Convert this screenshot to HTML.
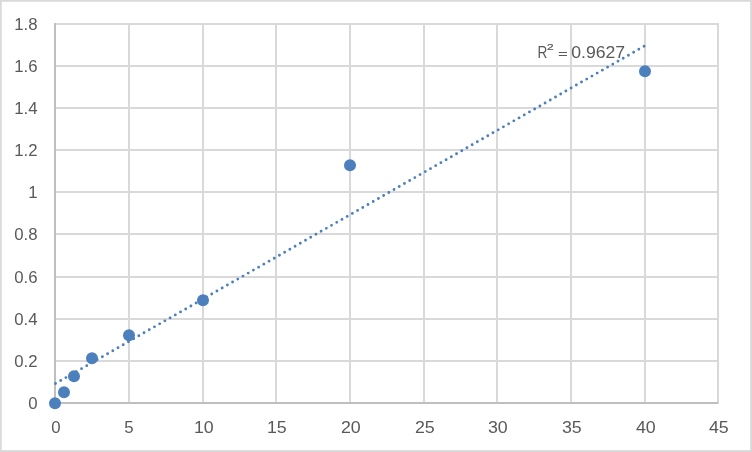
<!DOCTYPE html>
<html lang="en">
<head>
<meta charset="utf-8">
<title>Standard curve</title>
<style>
html,body{margin:0;padding:0;background:#fff;}
body{width:752px;height:452px;overflow:hidden;}
svg{display:block;}
text{font-family:"Liberation Sans",sans-serif;font-size:16.8px;fill:#595959;}
</style>
</head>
<body>
<svg width="752" height="452" viewBox="0 0 752 452">
<rect x="0" y="0" width="752" height="452" fill="#fff"/>
<g fill="#d9d9d9"><rect x="0" y="0" width="752" height="1.75"/><rect x="0" y="0" width="1.75" height="452"/><rect x="750.15" y="0" width="1.85" height="452"/><rect x="0" y="450.15" width="752" height="1.85"/></g>
<g shape-rendering="crispEdges" fill="#d9d9d9">
<rect x="54" y="23" width="665" height="2"/>
<rect x="54" y="65" width="665" height="2"/>
<rect x="54" y="107" width="665" height="2"/>
<rect x="54" y="149" width="665" height="2"/>
<rect x="54" y="191" width="665" height="2"/>
<rect x="54" y="233" width="665" height="2"/>
<rect x="54" y="276" width="665" height="2"/>
<rect x="54" y="318" width="665" height="2"/>
<rect x="54" y="360" width="665" height="2"/>
<rect x="128" y="23" width="2" height="381"/>
<rect x="202" y="23" width="2" height="381"/>
<rect x="275" y="23" width="2" height="381"/>
<rect x="349" y="23" width="2" height="381"/>
<rect x="423" y="23" width="2" height="381"/>
<rect x="496" y="23" width="2" height="381"/>
<rect x="570" y="23" width="2" height="381"/>
<rect x="644" y="23" width="2" height="381"/>
<rect x="717" y="23" width="2" height="381"/>
</g>
<g shape-rendering="crispEdges" fill="#bfbfbf">
<rect x="54" y="23" width="2" height="381"/>
<rect x="54" y="402" width="664" height="2"/>
</g>
<line x1="55.5" y1="383.55" x2="644.9" y2="45.75" stroke="#4c80bd" stroke-width="2.9" stroke-linecap="round" stroke-dasharray="0 6.003"/>
<g fill="#4c80bd">
<circle cx="55" cy="403.25" r="6"/>
<circle cx="64" cy="392.25" r="6"/>
<circle cx="74" cy="376.25" r="6"/>
<circle cx="92" cy="358.25" r="6"/>
<circle cx="129" cy="335.25" r="6"/>
<circle cx="203" cy="300.25" r="6"/>
<circle cx="350" cy="165.25" r="6"/>
<circle cx="645" cy="71.25" r="6"/>
</g>
<g text-anchor="end">
<text x="37.5" y="30">1.8</text>
<text x="37.5" y="72">1.6</text>
<text x="37.5" y="114">1.4</text>
<text x="37.5" y="156">1.2</text>
<text x="37.5" y="198">1</text>
<text x="37.5" y="240">0.8</text>
<text x="37.5" y="283">0.6</text>
<text x="37.5" y="325">0.4</text>
<text x="37.5" y="367">0.2</text>
<text x="37.5" y="409">0</text>
</g>
<g text-anchor="middle">
<text x="55.9" y="433.3">0</text>
<text x="129.0" y="433.3">5</text>
<text transform="translate(203.8,433.3) scale(1.06,1)">10</text>
<text transform="translate(276.8,433.3) scale(1.06,1)">15</text>
<text transform="translate(350.8,433.3) scale(1.06,1)">20</text>
<text transform="translate(424.8,433.3) scale(1.06,1)">25</text>
<text transform="translate(497.8,433.3) scale(1.06,1)">30</text>
<text transform="translate(571.8,433.3) scale(1.06,1)">35</text>
<text transform="translate(645.8,433.3) scale(1.06,1)">40</text>
<text transform="translate(718.8,433.3) scale(1.06,1)">45</text>
</g>
<text transform="translate(537.6,57.7) scale(0.81,1)">R</text>
<text transform="translate(546.9,50.0) scale(1.2,1.0)" style="font-size:9.95px;stroke:#595959;stroke-width:0.25px">2</text>
<text transform="translate(558.0,57.65) scale(1.0,0.62)">=</text>
<text transform="translate(571.2,57.7) scale(1.05,1)">0.9627</text>
</svg>
</body>
</html>
